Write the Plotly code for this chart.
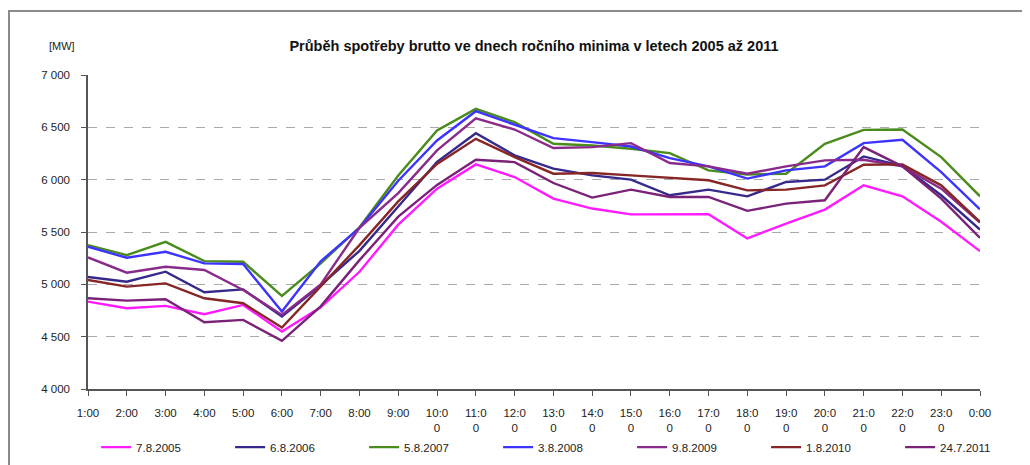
import plotly.graph_objects as go

hours = ["1:00", "2:00", "3:00", "4:00", "5:00", "6:00", "7:00", "8:00", "9:00", "10:00",
         "11:00", "12:00", "13:00", "14:00", "15:00", "16:00", "17:00", "18:00", "19:00",
         "20:00", "21:00", "22:00", "23:00", "0:00"]
tick_labels = ["1:00", "2:00", "3:00", "4:00", "5:00", "6:00", "7:00", "8:00", "9:00", "10:0<br>0",
               "11:0<br>0", "12:0<br>0", "13:0<br>0", "14:0<br>0", "15:0<br>0", "16:0<br>0", "17:0<br>0",
               "18:0<br>0", "19:0<br>0", "20:0<br>0", "21:0<br>0", "22:0<br>0", "23:0<br>0", "0:00"]

s2005 = [4835, 4771, 4794, 4714, 4803, 4549, 4780, 5120, 5570, 5914, 6146, 6025, 5819, 5724,
         5668, 5670, 5670, 5438, 5581, 5714, 5946, 5841, 5597, 5317]
s2006 = [5070, 5025, 5121, 4924, 4952, 4692, 4990, 5320, 5744, 6170, 6444, 6232, 6105, 6041,
         6000, 5851, 5905, 5841, 5978, 6000, 6222, 6130, 5851, 5524]
s2007 = [5375, 5279, 5406, 5222, 5216, 4889, 5200, 5545, 6040, 6470, 6676, 6549, 6343, 6327,
         6295, 6254, 6089, 6050, 6057, 6343, 6476, 6479, 6216, 5841]
s2008 = [5359, 5254, 5311, 5200, 5194, 4740, 5220, 5540, 5990, 6375, 6654, 6527, 6397, 6359,
         6317, 6206, 6127, 6010, 6089, 6127, 6349, 6381, 6073, 5717]
s2009 = [5257, 5111, 5168, 5137, 4946, 4708, 5000, 5540, 5872, 6280, 6587, 6479, 6302, 6311,
         6349, 6159, 6127, 6057, 6127, 6184, 6190, 6127, 5914, 5590]
s2010 = [5041, 4978, 5009, 4867, 4819, 4587, 4980, 5375, 5792, 6150, 6390, 6216, 6057, 6063,
         6041, 6019, 5994, 5898, 5905, 5946, 6143, 6146, 5946, 5597]
s2011 = [4867, 4844, 4857, 4638, 4660, 4460, 4790, 5231, 5647, 5950, 6190, 6168, 5968, 5829,
         5905, 5835, 5835, 5702, 5771, 5803, 6311, 6127, 5819, 5444]

series = [
    ("7.8.2005", s2005, "#FF1AFF"),
    ("6.8.2006", s2006, "#35298C"),
    ("5.8.2007", s2007, "#4A8C1C"),
    ("3.8.2008", s2008, "#3D33FF"),
    ("9.8.2009", s2009, "#8A2A8A"),
    ("1.8.2010", s2010, "#862626"),
    ("24.7.2011", s2011, "#7A2277"),
]

fig = go.Figure()
for name, vals, col in series:
    fig.add_trace(go.Scatter(x=hours, y=vals, name=name, mode="lines",
                             line=dict(color=col, width=2.4)))

fig.update_layout(
    width=1030, height=465,
    paper_bgcolor="white", plot_bgcolor="white",
    margin=dict(l=80, r=58, t=67, b=84),
    font=dict(family="Liberation Sans, Arial, sans-serif", size=11, color="#222"),
    separators=", ",
    title=dict(text="<b>Průběh spotřeby brutto ve dnech ročního minima v letech 2005 až 2011</b>",
               x=0.5, xref="paper", xanchor="center", y=1 - 38 / 465, yanchor="middle",
               font=dict(size=14.5, color="#111")),
    showlegend=True,
    legend=dict(orientation="h", x=-0.001, xanchor="left",
                y=-0.185, yanchor="middle", indentation=9,
                entrywidth=80, entrywidthmode="pixels", itemwidth=30,
                bgcolor="rgba(0,0,0,0)",
                font=dict(size=11.5, color="#222"), traceorder="normal"),
    annotations=[dict(text="[MW]", xref="paper", yref="paper", x=(62 - 88) / 892, y=(389 - 46) / 314,
                      xanchor="center", yanchor="middle", showarrow=False,
                      font=dict(size=11, color="#222"))],
    shapes=[dict(type="rect", xref="paper", yref="paper",
                 x0=(9 - 88) / 892, x1=(1045 - 88) / 892, y0=(389 - 480) / 314, y1=(389 - 11) / 314,
                 line=dict(color="#8a8a8a", width=2), fillcolor="rgba(0,0,0,0)", layer="below")],
)

fig.update_xaxes(type="category", range=[0, 23], tickvals=hours, ticktext=tick_labels,
                 showline=True, linecolor="#555", linewidth=1.5, ticks="outside", ticklen=5,
                 tickcolor="#555", showgrid=False, tickfont=dict(size=11.5), tickangle=0,
                 ticklabelstandoff=7)
fig.update_yaxes(range=[4000, 7000], dtick=500, tickformat=",d",
                 showline=True, linecolor="#555", linewidth=1.5, ticks="outside", ticklen=5,
                 tickcolor="#555", showgrid=True, gridcolor="#aaaaaa", griddash="dash",
                 gridwidth=1, zeroline=False, tickfont=dict(size=11.5), ticklabelstandoff=9)

fig.write_html("out.html")
